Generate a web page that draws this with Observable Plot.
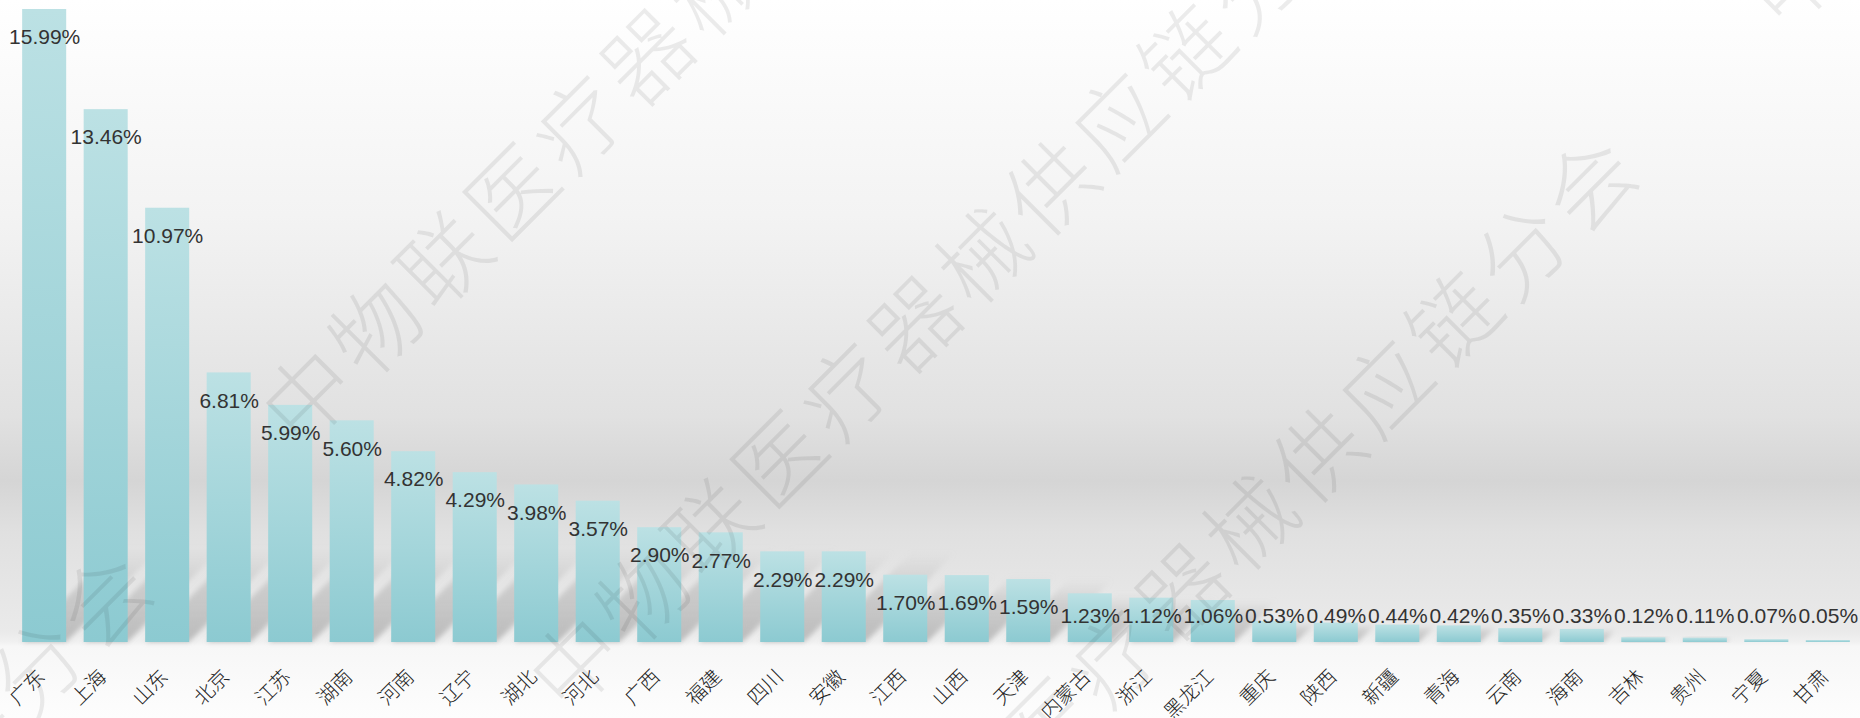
<!DOCTYPE html>
<html><head><meta charset="utf-8">
<script src="https://cdn.jsdelivr.net/npm/d3@7"></script>
<script src="https://cdn.jsdelivr.net/npm/@observablehq/plot@0.6"></script>
<style>html,body{margin:0;padding:0;background:#fff;overflow:hidden}#chart svg{display:block}</style>
</head><body><div id="chart"></div>
<script>
// ---- data ----
const provinces = ["广东","上海","山东","北京","江苏","湖南","河南","辽宁","湖北","河北","广西","福建","四川","安徽","江西","山西","天津","内蒙古","浙江","黑龙江","重庆","陕西","新疆","青海","云南","海南","吉林","贵州","宁夏","甘肃"];
const shares = [15.99,13.46,10.97,6.81,5.99,5.60,4.82,4.29,3.98,3.57,2.90,2.77,2.29,2.29,1.70,1.69,1.59,1.23,1.12,1.06,0.53,0.49,0.44,0.42,0.35,0.33,0.12,0.11,0.07,0.05];
const watermark = "中物联医疗器械供应链分会";

const data = provinces.map((name, i) => ({name, value: shares[i]}));
const W = 1860, H = 718;
const labelFloor = 1.38; // labels never sink below this level

// background + gradient definitions
const bgMark = () => {
  const g = d3.create("svg:g");
  const defs = g.append("defs");
  const bg = defs.append("linearGradient").attr("id", "bgGrad").attr("x1", 0).attr("y1", 0).attr("x2", 0).attr("y2", 1);
  [[0, "#ffffff"], [0.3, "#f3f3f3"], [0.58, "#e1e1e1"], [0.67, "#d5d5d5"], [0.74, "#e0e0e0"], [0.88, "#eaeaea"], [0.893, "#f0f0f0"], [0.9, "#f7f7f7"], [1, "#fdfdfd"]]
    .forEach(([o, c]) => bg.append("stop").attr("offset", o).attr("stop-color", c));
  const bar = defs.append("linearGradient").attr("id", "barGrad").attr("x1", 0).attr("y1", 0).attr("x2", 0).attr("y2", 1);
  [[0, "#bce1e4"], [1, "#8ccad1"]].forEach(([o, c]) => bar.append("stop").attr("offset", o).attr("stop-color", c));
  const sh = defs.append("linearGradient").attr("id", "shGrad").attr("x1", 0).attr("y1", 1).attr("x2", 0).attr("y2", 0);
  [[0, "#9a9a9a", 0.6], [0.6, "#a8a8a8", 0.4], [1, "#bbbbbb", 0]].forEach(([o, c, a]) => sh.append("stop").attr("offset", o).attr("stop-color", c).attr("stop-opacity", a));
  defs.append("filter").attr("id", "blur").attr("x", "-20%").attr("y", "-20%").attr("width", "140%").attr("height", "140%")
    .append("feGaussianBlur").attr("stdDeviation", 2.5);
  g.append("rect").attr("width", W).attr("height", H).attr("fill", "url(#bgGrad)");
  return g.node();
};

// watermark overlay
const wmMark = () => {
  const g = d3.create("svg:g")
    .attr("fill", "#000").attr("fill-opacity", 0.075)
    .attr("font-family", "'Noto Sans CJK SC', sans-serif").attr("font-size", 88).attr("font-weight", 300)
    .attr("text-anchor", "middle").attr("dominant-baseline", "central");
  const chars = Array.from(watermark);
  const period = chars.length + 2, pitch = 96, s0 = -62;
  const lines = [492, 870, 1248];
  const r2 = Math.SQRT2;
  for (const t of lines) {
    for (let i = -20; i <= 30; i++) {
      const s = s0 + i * pitch;
      const x = (s + t) / r2, y = (t - s) / r2;
      if (x < -90 || x > W + 90 || y < -90 || y > H + 90) continue;
      const k = ((i % period) + period) % period;
      if (k >= chars.length) continue;
      g.append("text").attr("transform", `translate(${x},${y}) rotate(-45)`).text(chars[k]);
    }
  }
  return g.node();
};

const chart = Plot.plot({
  width: W, height: H,
  marginTop: 9, marginBottom: 76, marginLeft: 16, marginRight: 4,
  style: {background: "transparent", fontFamily: "'Liberation Sans', Arial, sans-serif", overflow: "visible"},
  x: {domain: provinces, paddingInner: 0.284, paddingOuter: 0.1, round: false, axis: null},
  y: {domain: [0, 15.99], axis: null},
  marks: [
    bgMark,
    Plot.barY(data, {
      x: "name", y: "value", fill: "#999",
      render: (index, scales, values, dims, ctx, next) => {
        const g = next(index, scales, values, dims, ctx);
        const out = d3.create("svg:g");
        d3.select(g).selectAll("rect").each(function() {
          const x = +this.getAttribute("x"), y = +this.getAttribute("y");
          const w = +this.getAttribute("width"), h = +this.getAttribute("height");
          const y0 = y + h, d = Math.min(h, 95);
          if (d < 3) return;
          out.append("polygon")
            .attr("points", `${x},${y0} ${x + w},${y0} ${x + w + d},${y0 - d} ${x + d},${y0 - d}`)
            .attr("fill", "url(#shGrad)").attr("filter", "url(#blur)");
        });
        return out.node();
      }
    }),
    Plot.barY(data, {x: "name", y: "value", fill: "url(#barGrad)"}),
    Plot.text(data, {
      x: "name", y: d => Math.max(d.value, labelFloor), dy: 28,
      text: d => d.value.toFixed(2) + "%",
      fontSize: 21, fill: "#333"
    }),
    Plot.text(data, {
      x: "name", frameAnchor: "bottom", text: "name",
      rotate: -45, textAnchor: "end", lineAnchor: "middle",
      dx: -3, dy: 31, fontSize: 20, fill: "#222", fontWeight: 300,
      fontFamily: "'Noto Sans CJK SC', sans-serif"
    }),
    wmMark
  ]
});
document.getElementById("chart").appendChild(chart);
</script>
</body></html>
